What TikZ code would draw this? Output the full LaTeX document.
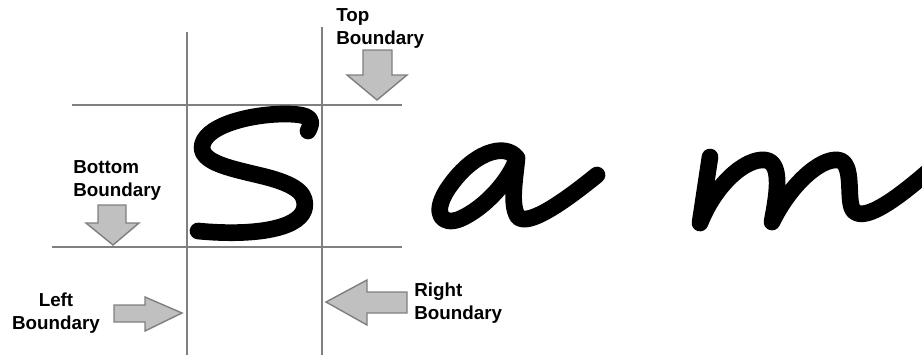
\documentclass[tikz,border=0pt]{standalone}
\usepackage{fontspec}
\setsansfont{Liberation Sans}
\usepackage{xcolor}
\usepackage{tikz}
\usetikzlibrary{positioning, calc}
\definecolor{gridgray}{HTML}{808080}
\definecolor{arrowfill}{HTML}{C0C0C0}
\definecolor{arrowedge}{HTML}{7F7F7F}
\tikzset{
  lbl/.style={font=\sffamily\bfseries\fontsize{10.7}{13}\selectfont, text=black, inner sep=0pt},
  guide/.style={draw=gridgray, line width=1.5pt},
  blockarrow/.style={fill=arrowfill, draw=arrowedge, line width=0.8pt, line join=miter},
  ink/.style={draw=black, line width=9.5pt, line cap=round, line join=round},
}
\begin{document}
\begin{tikzpicture}[x=0.02cm, y=-0.02cm]
  \useasboundingbox (0,0) rectangle (922,355);
  % boundary lines
  \draw[guide] (187,32) -- (187,355);
  \draw[guide] (322,27) -- (322,355);
  \draw[guide] (72,105) -- (402,105);
  \draw[guide] (52,247) -- (402,247);
  % labels
  \node[lbl, anchor=west, align=left]   (top)    at (336,28.5)  {Top\\Boundary};
  \node[lbl, anchor=west, align=left]   (bottom) at (73,180.5)  {Bottom\\Boundary};
  \node[lbl, align=center]              (left)   at (56,313.5)  {Left\\Boundary};
  \node[lbl, anchor=west, align=left]   (right)  at (414,303.5) {Right\\Boundary};
  % block arrows
  \draw[blockarrow] (363,50) -- (392,50) -- (392,75) -- (407,75) -- (377,100) -- (347,75) -- (363,75) -- cycle;
  \draw[blockarrow] (98,205) -- (126,205) -- (126,223) -- (139,223) -- (113,245) -- (86,223) -- (98,223) -- cycle;
  \draw[blockarrow] (114,305) -- (145,305) -- (145,297) -- (182,313) -- (145,331) -- (145,322) -- (114,322) -- cycle;
  \draw[blockarrow] (407,292) -- (367,292) -- (367,280) -- (326,302) -- (367,325) -- (367,313) -- (407,313) -- cycle;
  % handwritten S
  \draw[ink] (308,131) .. controls (314,120) and (312,114) .. (285,114)
    .. controls (250,114) and (202,126) .. (202,148)
    .. controls (203,165) and (240,170) .. (270,178)
    .. controls (298,186) and (308,195) .. (304,210)
    .. controls (297,230) and (250,236) .. (198,231);
  % handwritten a
  \draw[ink] (517,158) .. controls (505,142) and (472,152) .. (447,190)
    .. controls (432,214) and (442,226) .. (460,219)
    .. controls (485,208) and (510,180) .. (517,158)
    .. controls (515,180) and (510,205) .. (518,217)
    .. controls (528,226) and (560,205) .. (597,175);
  % handwritten m
  \draw[ink] (710,157) -- (700,223)
    .. controls (715,185) and (745,158) .. (765,160)
    .. controls (784,162) and (776,200) .. (772,222)
    .. controls (790,185) and (820,158) .. (838,160)
    .. controls (855,162) and (846,200) .. (853,210)
    .. controls (862,222) and (890,205) .. (930,170);
\end{tikzpicture}
\end{document}
